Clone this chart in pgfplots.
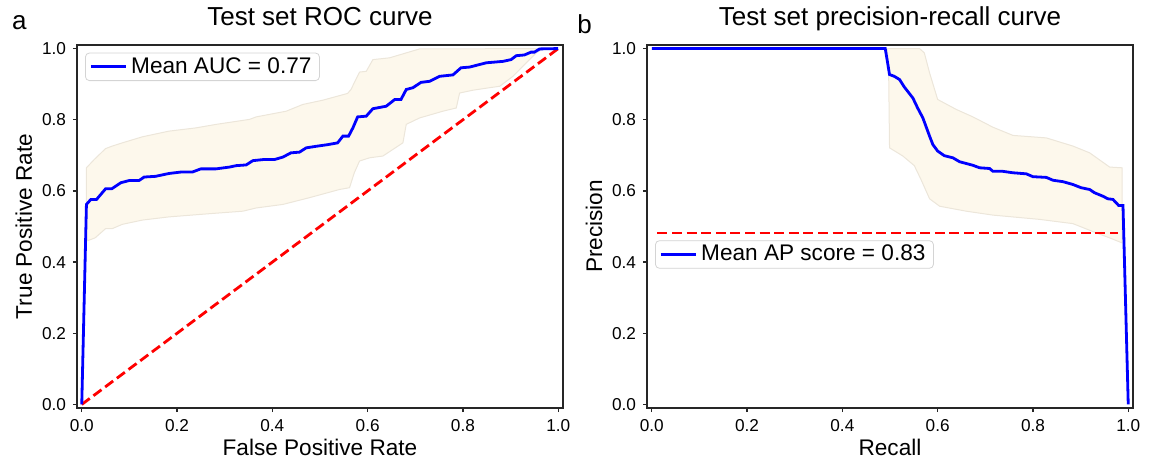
\documentclass[border=0pt]{standalone}
\usepackage{fontspec}
\setmainfont{Liberation Sans}
\usepackage{pgfplots}
\pgfplotsset{compat=1.18}

\definecolor{bandfill}{RGB}{253,248,236}
\definecolor{bandedge}{RGB}{236,230,218}

\pgfplotsset{
  panel/.style={
    anchor=south west, scale only axis, width=243pt, height=181.5pt,
    xmin=-0.01, xmax=1.01, ymin=-0.01, ymax=1.01,
    axis line style={black!85, line width=0.6pt},
    tick pos=left, tick align=outside, major tick length=2pt,
    tick style={black!85, line width=0.6pt},
    xtick={0,0.2,0.4,0.6,0.8,1}, ytick={0,0.2,0.4,0.6,0.8,1},
    xticklabels={0.0,0.2,0.4,0.6,0.8,1.0}, yticklabels={0.0,0.2,0.4,0.6,0.8,1.0},
    tick label style={font=\fontsize{8.6}{10}\selectfont},
    title style={font=\fontsize{13}{15}\selectfont, at={(0.5,1.022)}, anchor=base},
    label style={font=\fontsize{11.3}{13}\selectfont},
    xlabel style={at={(axis description cs:0.5,-0.1295)}, anchor=base},
    ylabel style={at={(axis description cs:-0.0926,0.5)}, anchor=base},
    legend cell align=left,
    legend image code/.code={\draw[#1, line width=1pt] (0pt,0pt) -- (15pt,0pt); \path (0pt,0pt) -- (17.5pt,0pt);},
    legend style={anchor=north west, draw=black!17, rounded corners=2pt,
      font=\fontsize{11.3}{13}\selectfont, inner xsep=2pt, inner ysep=1pt,
      nodes={inner ysep=1.2pt}},
  },
  meanline/.style={blue, line width=1.4pt},
  chance/.style={red, line width=1.4pt, dash pattern=on 5pt off 2.3pt},
  band/.style={fill=bandfill, draw=bandedge, line width=0.5pt, forget plot},
}

\begin{document}
\begin{tikzpicture}
\path[use as bounding box] (0,0) rectangle (577.5pt,231pt);

% (a) ROC
\begin{axis}[panel, at={(38.5pt,27pt)},
  title={Test set ROC curve}, xlabel={False Positive Rate}, ylabel={True Positive Rate},
  legend style={at={(0.0165,0.979)}}]
\addplot[band] coordinates {
 (0.0098,0.665) (0.026,0.688) (0.050,0.719) (0.064,0.726) (0.085,0.735) (0.127,0.752)
 (0.183,0.768) (0.239,0.777) (0.282,0.787) (0.352,0.801) (0.366,0.808) (0.429,0.824)
 (0.464,0.843) (0.506,0.855) (0.558,0.874) (0.565,0.885) (0.583,0.934) (0.597,0.936)
 (0.611,0.969) (0.646,0.974) (0.709,0.999) (1.0,1.0)
 (0.968,0.999) (0.954,0.988) (0.933,0.960) (0.905,0.922) (0.877,0.894) (0.856,0.890)
 (0.821,0.883) (0.793,0.875) (0.786,0.833) (0.758,0.824) (0.709,0.805) (0.681,0.787)
 (0.674,0.735) (0.632,0.698) (0.604,0.693) (0.583,0.684) (0.572,0.651) (0.562,0.609)
 (0.541,0.604) (0.478,0.581) (0.422,0.562) (0.366,0.552) (0.338,0.543) (0.268,0.536)
 (0.183,0.527) (0.127,0.518) (0.085,0.506) (0.064,0.494) (0.050,0.494) (0.028,0.468)
 (0.0098,0.459)} -- cycle;
\addplot[chance, forget plot] coordinates {(0,0) (1,1)};
\addplot[meanline] coordinates {
 (0,0) (0.0098,0.562) (0.019,0.576) (0.031,0.576) (0.050,0.606) (0.063,0.606)
 (0.082,0.623) (0.099,0.629) (0.120,0.629) (0.131,0.639) (0.155,0.641) (0.183,0.649)
 (0.208,0.653) (0.232,0.653) (0.250,0.662) (0.282,0.662) (0.310,0.667) (0.324,0.671)
 (0.345,0.673) (0.359,0.685) (0.380,0.688) (0.404,0.688) (0.422,0.695) (0.439,0.707)
 (0.457,0.709) (0.471,0.721) (0.495,0.726) (0.516,0.730) (0.537,0.735) (0.548,0.754)
 (0.560,0.754) (0.569,0.777) (0.579,0.808) (0.597,0.810) (0.611,0.831) (0.639,0.838)
 (0.657,0.857) (0.670,0.857) (0.681,0.885) (0.695,0.890) (0.712,0.905) (0.730,0.908)
 (0.751,0.922) (0.779,0.926) (0.796,0.946) (0.814,0.948) (0.849,0.960) (0.884,0.964)
 (0.901,0.969) (0.912,0.980) (0.929,0.982) (0.943,0.990) (0.950,0.990) (0.961,0.999)
 (1.0,1.0)};
\addlegendentry{Mean AUC = 0.77}
\end{axis}

% (b) precision-recall
\begin{axis}[panel, at={(323.5pt,27pt)},
  title={Test set precision-recall curve}, xlabel={Recall}, ylabel={Precision},
  legend style={at={(0.0165,0.462)}}]
\addplot[band] coordinates {
 (0.494,1.0) (0.562,1.0) (0.572,0.988) (0.583,0.932) (0.600,0.857) (0.639,0.829)
 (0.674,0.808) (0.716,0.779) (0.758,0.756) (0.828,0.749) (0.884,0.726) (0.919,0.707)
 (0.961,0.667) (0.987,0.665)
 (0.987,0.454) (0.961,0.468) (0.933,0.482) (0.884,0.508) (0.814,0.520) (0.716,0.532)
 (0.660,0.543) (0.604,0.557) (0.583,0.578) (0.565,0.632) (0.551,0.671) (0.527,0.698)
 (0.499,0.721) (0.497,0.95)} -- cycle;
\addplot[chance, forget plot] coordinates {(0.012,0.482) (0.978,0.482)};
\addplot[meanline] coordinates {
 (0,1.0) (0.490,1.0) (0.499,0.927) (0.509,0.922) (0.520,0.913) (0.530,0.892)
 (0.548,0.861) (0.558,0.833) (0.569,0.805) (0.583,0.754) (0.590,0.730) (0.600,0.712)
 (0.614,0.699) (0.632,0.693) (0.646,0.682) (0.674,0.672) (0.688,0.665) (0.709,0.663)
 (0.716,0.655) (0.737,0.655) (0.758,0.651) (0.786,0.648) (0.800,0.640) (0.828,0.638)
 (0.842,0.630) (0.863,0.626) (0.884,0.618) (0.901,0.609) (0.919,0.604) (0.929,0.595)
 (0.947,0.585) (0.957,0.578) (0.968,0.576) (0.980,0.559) (0.989,0.559) (1.0,0.0)};
\addlegendentry{Mean AP score = 0.83}
\end{axis}

\node[anchor=base west, font=\fontsize{13}{15}\selectfont, inner sep=0pt] at (5.8pt,216.5pt) {a};
\node[anchor=base west, font=\fontsize{13}{15}\selectfont, inner sep=0pt] at (288.5pt,214.5pt) {b};
\end{tikzpicture}
\end{document}
